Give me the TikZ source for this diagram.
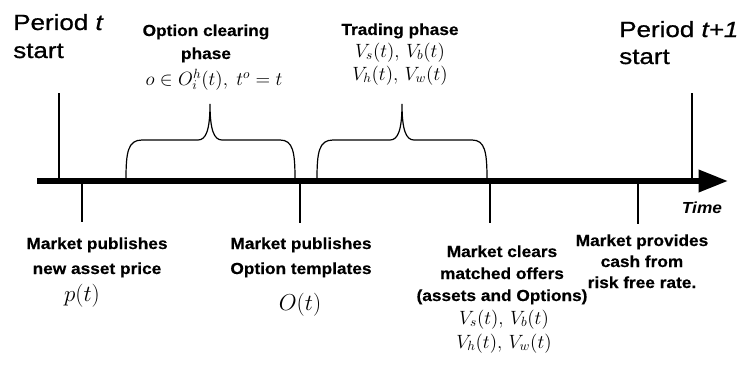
\documentclass[tikz,border=0pt]{standalone}
\usepackage[no-math]{fontspec}
\setmainfont{Liberation Sans}
\newfontfamily\lblfont[FakeStretch=1.08, BoldFeatures={FakeBold=0.4}]{Liberation Sans}
\newfontfamily\ttlfont[FakeStretch=1.18, FakeBold=0.8]{Liberation Sans}
\usetikzlibrary{arrows.meta}
\tikzset{
  lbl/.style={font=\lblfont\bfseries\fontsize{12}{14}\selectfont, inner sep=0pt, anchor=base},
  ttl/.style={font=\ttlfont\fontsize{16.5}{19}\selectfont, inner sep=0pt, anchor=base west},
  mth/.style={font=\fontsize{14}{16}\selectfont, inner sep=0pt, anchor=base},
  thinline/.style={line width=0.8pt},
  bracestyle/.style={line width=0.9pt},
  axisline/.style={line width=4.2pt, -{Triangle[length=22pt,width=16pt]}}
}
\begin{document}
\begin{tikzpicture}[x=0.75pt,y=-0.75pt]
\useasboundingbox (0,0) rectangle (743,371);
% axis
\coordinate (axL) at (37,181);
\coordinate (axR) at (728,181);
\draw[axisline] (axL) -- (axR);
% titles
\node[ttl] (pt1) at (13,30) {Period \textit{t}};
\node[ttl] (pt2) at (13,58) {start};
\node[ttl] (pn1) at (619,37) {Period \textit{t+1}};
\node[ttl] (pn2) at (619,64) {start};
% vertical lines above
\coordinate (vA) at (59,93);
\coordinate (vAb) at (59,180);
\coordinate (vB) at (692,93);
\coordinate (vBb) at (692,180);
\draw[thinline] (vA) -- (vAb);
\draw[thinline] (vB) -- (vBb);
% ticks below
\foreach \x/\y [count=\i] in {82/222,300/223,490/223,638/224}{
  \coordinate (tk\i a) at (\x,183);
  \coordinate (tk\i b) at (\x,\y);
  \draw[thinline] (tk\i a) -- (tk\i b);
}
% braces
\draw[bracestyle] (126,179) .. controls (126,152) and (128,140) .. (142,140)
  -- (198,140) .. controls (206,140) and (210,130) .. (210,104)
  .. controls (210,130) and (214,140) .. (222,140)
  -- (280,140) .. controls (293,140) and (295,152) .. (295,179);
\draw[bracestyle] (317,179) .. controls (317,152) and (319,140) .. (333,140)
  -- (390,140) .. controls (398,140) and (402,130) .. (402,104)
  .. controls (402,130) and (406,140) .. (414,140)
  -- (472,140) .. controls (485,140) and (487,152) .. (487,179);
% phase labels
\node[lbl] (oc1) at (206,36) {Option clearing};
\node[lbl] (oc2) at (206,59) {phase};
\node[mth] (oc3) at (214,85) {$o \in O^h_i(t),\ t^o = t$};
\node[lbl] (tp1) at (400,35) {Trading phase};
\node[mth] (tp2) at (400,57) {$V_s(t),\, V_b(t)$};
\node[mth] (tp3) at (400,80) {$V_h(t),\, V_w(t)$};
% time
\node[font=\lblfont\bfseries\itshape\fontsize{12}{14}\selectfont, inner sep=0pt, anchor=base] (time) at (702,213) {Time};
% bottom labels
\node[lbl] (mp1) at (97,249) {Market publishes};
\node[lbl] (mp2) at (97,274) {new asset price};
\node[mth, font=\fontsize{16}{18}\selectfont] (mp3) at (82,301) {$p(t)$};
\node[lbl] (mo1) at (301,249) {Market publishes};
\node[lbl] (mo2) at (301,274) {Option templates};
\node[mth, font=\fontsize{18}{20}\selectfont] (mo3) at (300,310) {$O(t)$};
\node[lbl] (mc1) at (502,257) {Market clears};
\node[lbl] (mc2) at (502,279) {matched offers};
\node[lbl] (mc3) at (502,301) {(assets and Options)};
\node[mth] (mc4) at (504,324) {$V_s(t),\, V_b(t)$};
\node[mth] (mc5) at (504,348) {$V_h(t),\, V_w(t)$};
\node[lbl] (mv1) at (642,246) {Market provides};
\node[lbl] (mv2) at (642,267) {cash from};
\node[lbl] (mv3) at (642,288) {risk free rate.};
\end{tikzpicture}
\end{document}
